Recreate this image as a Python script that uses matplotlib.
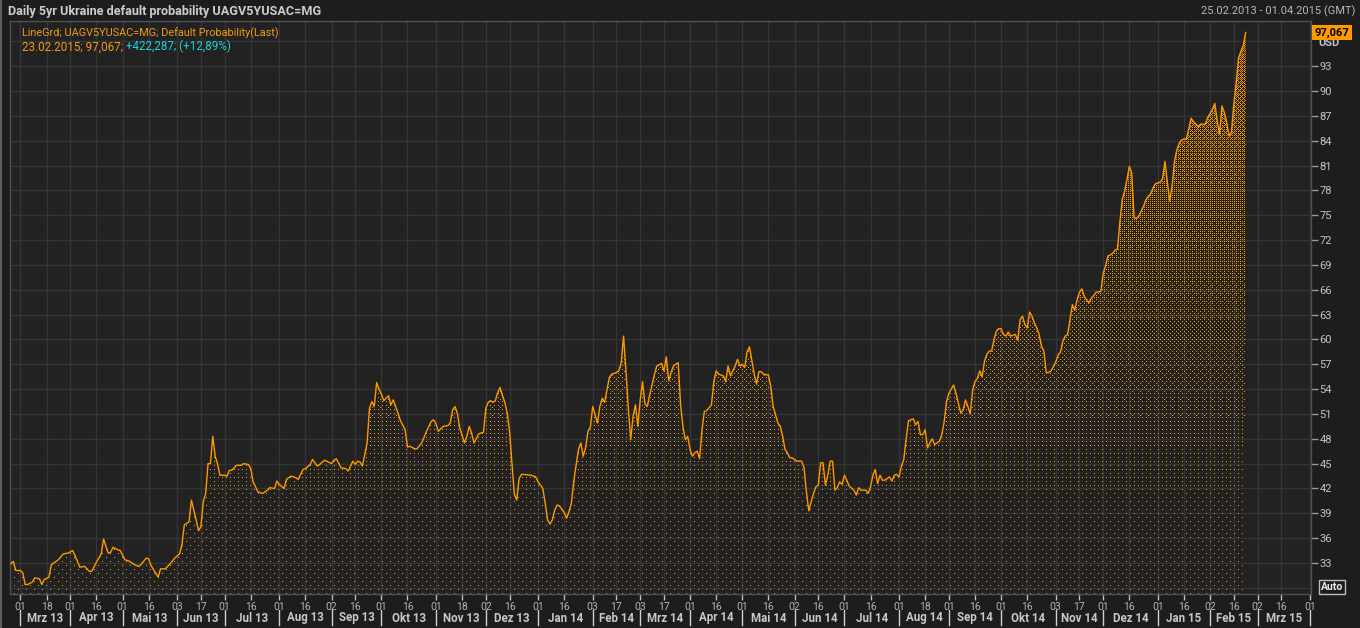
import numpy as np
import matplotlib
matplotlib.use('Agg')
import matplotlib.pyplot as plt
from matplotlib.transforms import blended_transform_factory
from matplotlib.lines import Line2D

plt.rcParams['font.family'] = ['Roboto', 'DejaVu Sans']

# ---------------- data (x = business days since 01.03.2013) ----------------
days = [-4, -3, -2, 0, 1, 2, 3, 5, 6, 8, 9, 10, 12, 13, 15, 16, 18, 20, 22, 23, 25, 27, 29, 30, 32, 34, 35, 36, 37,
        38, 39, 41, 42, 44, 46, 48, 50, 51, 53, 54, 55, 58, 59, 61, 63, 65, 67, 68, 69, 70, 71, 72, 73, 74, 75, 76,
        77, 78, 79, 80, 81, 82, 83, 84, 86, 87, 88, 89, 91, 93, 94, 96, 97, 98, 100, 102, 104, 105, 107, 108, 109,
        111, 112, 114, 116, 117, 119, 120, 122, 123, 125, 126, 128, 129, 131, 132, 133, 135, 137, 138, 140, 141,
        142, 143, 144, 145, 146, 147, 148, 149, 150, 151, 152, 153, 155, 156, 157, 159, 160, 162, 163, 164, 166,
        167, 169, 170, 171, 173, 174, 175, 176, 178, 180, 181, 182, 183, 184, 185, 187, 188, 189, 190, 191, 193,
        195, 196, 197, 198, 199, 200, 201, 202, 203, 204, 205, 206, 207, 208, 209, 210, 211, 212, 215, 217, 218,
        220, 221, 222, 223, 224, 225, 226, 227, 229, 230, 231, 232, 233, 234, 235, 236, 237, 238, 239, 240, 241,
        242, 243, 244, 245, 246, 247, 248, 249, 251, 252, 253, 254, 255, 256, 257, 258, 259, 260, 261, 262, 263,
        264, 265, 266, 267, 268, 270, 271, 272, 273, 274, 275, 276, 277, 278, 279, 280, 281, 282, 283, 284, 285,
        286, 287, 288, 289, 291, 292, 293, 294, 296, 297, 298, 299, 300, 301, 302, 303, 304, 305, 306, 307, 308,
        309, 310, 311, 312, 313, 315, 316, 317, 318, 319, 320, 321, 322, 323, 324, 325, 327, 329, 330, 331, 332,
        333, 334, 335, 336, 337, 338, 339, 340, 341, 342, 343, 344, 345, 346, 347, 348, 349, 351, 352, 353, 354,
        356, 357, 358, 359, 360, 361, 362, 363, 364, 366, 367, 368, 369, 370, 371, 372, 373, 374, 375, 376, 377,
        378, 379, 380, 381, 382, 383, 384, 385, 387, 388, 389, 390, 391, 392, 393, 394, 395, 396, 397, 398, 399,
        400, 401, 402, 403, 404, 405, 406, 407, 408, 409, 410, 411, 412, 413, 414, 415, 416, 417, 419, 420, 421,
        422, 423, 424, 425, 426, 427, 428, 429, 430, 431, 432, 433, 434, 435, 436, 437, 438, 439, 440, 441, 442,
        443, 444, 445, 446, 447, 448, 450, 451, 452, 453, 455, 456, 457, 458, 459, 460, 461, 462, 463, 464, 465,
        466, 467, 468, 469, 470, 471, 472, 473, 474, 476, 477, 478, 480, 481, 482, 483, 484, 485, 486, 487, 488,
        489, 490, 491, 492, 493, 494, 495, 496, 497, 499, 500, 501, 502, 503, 504, 505, 506, 507, 508, 509, 510,
        511, 512, 513, 514, 515, 516]
values = [32.9, 33.2, 32.1, 32.1, 31.8, 30.4, 30.4, 30.7, 31.2, 31.1, 30.4, 31.0, 31.3, 32.8, 33.2, 33.4, 34.1,
          34.2, 34.5, 33.9, 32.5, 32.6, 32.0, 32.0, 33.1, 34.1, 35.9, 35.0, 34.2, 34.3, 34.9, 34.6, 34.5, 33.4,
          33.2, 32.8, 32.6, 32.9, 33.6, 33.5, 32.7, 31.3, 32.3, 32.3, 32.9, 33.6, 34.1, 35.2, 37.6, 37.8, 38.0,
          40.6, 39.4, 38.2, 36.9, 37.4, 40.4, 41.4, 45.0, 45.0, 48.3, 45.9, 45.0, 43.6, 43.6, 43.5, 44.2, 44.2,
          44.8, 44.8, 45.0, 44.9, 44.4, 42.8, 41.6, 41.4, 41.8, 42.1, 42.0, 42.9, 42.5, 42.0, 43.1, 43.5, 43.3,
          43.1, 44.3, 44.4, 44.9, 45.5, 44.7, 44.9, 45.4, 45.3, 45.0, 45.4, 45.6, 44.5, 44.4, 44.1, 45.3, 44.9,
          45.3, 45.2, 44.7, 46.1, 47.5, 51.7, 52.5, 51.9, 54.8, 54.0, 53.4, 52.6, 53.2, 52.1, 52.7, 51.1, 50.2,
          49.1, 47.0, 47.1, 46.8, 46.8, 47.5, 48.2, 48.9, 50.1, 50.3, 49.8, 48.9, 49.5, 49.6, 49.9, 51.5, 51.9,
          51.1, 49.3, 47.5, 48.3, 49.5, 48.7, 47.5, 48.6, 48.8, 51.7, 52.4, 52.6, 52.4, 52.6, 53.6, 54.2, 53.2,
          52.4, 51.1, 48.9, 45.0, 41.3, 40.6, 43.2, 43.7, 43.7, 43.6, 43.4, 42.8, 42.0, 40.2, 38.2, 37.7, 38.2,
          39.4, 40.0, 39.9, 39.1, 38.4, 39.2, 40.2, 42.8, 44.8, 46.7, 47.5, 45.9, 46.9, 48.9, 49.4, 51.9, 50.9,
          49.9, 51.9, 52.9, 52.4, 53.9, 55.4, 55.8, 56.0, 56.2, 57.2, 60.4, 56.2, 51.7, 47.9, 50.7, 52.1, 49.5,
          52.7, 54.9, 52.2, 51.9, 53.3, 54.5, 55.8, 56.8, 57.1, 56.2, 57.9, 55.0, 56.0, 56.8, 57.0, 57.2, 52.1,
          49.5, 47.9, 48.3, 46.7, 45.9, 46.3, 46.5, 45.6, 49.0, 51.3, 51.4, 52.1, 54.9, 56.2, 55.8, 55.6, 54.9,
          56.8, 55.6, 56.2, 56.8, 57.6, 56.8, 57.0, 56.6, 58.5, 59.1, 57.5, 55.8, 54.6, 56.1, 56.1, 55.8, 55.7,
          54.3, 51.9, 50.9, 49.9, 49.5, 48.3, 46.7, 46.3, 45.7, 45.7, 45.3, 45.3, 44.5, 41.6, 39.3, 40.4, 41.4,
          42.2, 42.4, 45.1, 45.1, 42.4, 43.6, 45.3, 45.3, 41.8, 42.1, 42.8, 42.5, 43.6, 43.0, 42.3, 41.8, 41.2,
          42.1, 41.8, 41.8, 41.4, 42.2, 43.6, 44.3, 42.6, 43.6, 43.0, 43.0, 43.4, 42.9, 43.6, 43.7, 43.4, 44.7,
          45.5, 48.0, 50.2, 50.3, 50.4, 49.7, 50.1, 48.5, 48.5, 49.1, 46.9, 47.5, 48.0, 47.3, 47.7, 48.5, 50.0,
          52.5, 53.5, 54.0, 54.5, 53.5, 52.3, 51.1, 51.5, 52.7, 51.9, 51.0, 53.9, 54.9, 55.3, 56.2, 55.5, 57.4,
          58.2, 58.6, 58.6, 60.0, 61.0, 61.3, 61.3, 60.6, 60.4, 60.9, 60.4, 60.6, 59.9, 62.4, 62.8, 61.8, 61.4,
          63.3, 62.8, 62.0, 61.4, 60.6, 59.2, 58.6, 56.0, 56.0, 56.2, 56.7, 57.3, 58.1, 58.5, 59.8, 60.4, 60.6,
          62.4, 64.2, 63.5, 64.8, 65.7, 66.1, 65.2, 64.4, 65.0, 65.3, 65.7, 65.8, 68.0, 68.9, 70.1, 70.2, 70.4,
          70.8, 70.9, 74.1, 76.9, 77.9, 79.3, 80.9, 80.1, 74.7, 74.6, 74.9, 75.5, 76.1, 76.9, 77.6, 78.3, 78.8,
          79.0, 79.4, 81.5, 79.0, 76.7, 78.5, 81.5, 82.9, 83.7, 84.1, 84.2, 84.2, 85.4, 86.7, 86.3, 86.0, 85.7,
          86.0, 86.0, 86.8, 87.3, 87.8, 88.5, 86.4, 84.8, 88.2, 87.4, 86.2, 84.6, 85.0, 88.4, 91.0, 94.0, 94.8,
          95.5, 97.067]

y_ticks = list(range(33, 94, 3))
bold_ticks = [60, 90]
month_names = ['Jan', 'Feb', 'Mrz', 'Apr', 'Mai', 'Jun', 'Jul', 'Aug', 'Sep', 'Okt', 'Nov', 'Dez']
title = 'Daily 5yr Ukraine default probability UAGV5YUSAC=MG'
range_text = '25.02.2013 - 01.04.2015 (GMT)'
legend_line1 = 'LineGrd; UAGV5YUSAC=MG; Default Probability(Last)'
legend_line2a = '23.02.2015; 97,067;'
legend_line2b = ' +422,287; (+12,89%)'
last_label = '97,067'
START = '2013-03-01'

# ---------------- styling ----------------
ORANGE = '#ff9900'
TXT = '#c4c4c4'
W, H = 1360, 628
fig = plt.figure(figsize=(W / 100, H / 100), dpi=100, facecolor='#1d1d1d')
ax_l, ax_r, ax_t, ax_b = 10, 1311, 21, 594
ax = fig.add_axes([ax_l / W, 1 - ax_b / H, (ax_r - ax_l) / W, (ax_b - ax_t) / H])
ax.set_facecolor('#222222')
XL = (-4.4, 543.5)
YL = (29.26, 98.45)

# x ticks (business-day axis): first business day on/after 1st and 16th
ticks, tlabels, mstarts, mlab = [], [], [], []
y, m = 2013, 3
while (y, m) <= (2015, 4):
    for d in (1, 16):
        if (y, m) == (2015, 4) and d == 16:
            continue
        date = np.busday_offset(np.datetime64(f'{y:04d}-{m:02d}-{d:02d}'), 0, roll='forward')
        idx = int(np.busday_count(START, date))
        ticks.append(idx)
        tlabels.append(str(date)[-2:])
        if d == 1:
            mstarts.append(idx)
            mlab.append(f'{month_names[m - 1]} {y % 100:02d}')
    m += 1
    if m > 12:
        m, y = 1, y + 1
mlab = mlab[:-1]
mmid = [(a + b) / 2 for a, b in zip(mstarts[:-1], mstarts[1:])]

# dotted gradient texture clipped to the area under the curve
def bayer(n):
    if n == 1:
        return np.array([[0]])
    b = bayer(n // 2)
    return np.block([[4 * b, 4 * b + 2], [4 * b + 3, 4 * b + 1]])

B = bayer(8)
hh, ww = ax_b - ax_t, ax_r - ax_l
rr = np.arange(hh)[:, None]
cc = np.arange(ww)[None, :]
tt = (hh - rr - 0.5) / hh
level = 1 + 31 * tt ** 2
mask = B[rr % 8, cc % 8] < level
rgba = np.zeros((hh, ww, 4))
rgba[..., 0] = 1.0
rgba[..., 1] = 0.6
rgba[..., 2] = 0.0
rgba[..., 3] = mask.astype(float)
im = ax.imshow(rgba, extent=(XL[0], XL[1], YL[0], YL[1]), aspect='auto',
               interpolation='nearest', origin='upper', zorder=1.5)
poly = ax.fill_between(days, values, YL[0], facecolor='none', edgecolor='none')
im.set_clip_path(poly.get_paths()[0], transform=ax.transData)

ax.plot(days, values, color=ORANGE, lw=1.0, zorder=3)

ax.set_xlim(*XL)
ax.set_ylim(*YL)

# grid
ax.set_xticks(ticks)
ax.set_xticklabels(tlabels)
ax.set_yticks(y_ticks)
ax.set_yticks([30, 96], minor=True)
ax.set_yticklabels([str(v) for v in y_ticks])
for lab, v in zip(ax.get_yticklabels(), y_ticks):
    if v in bold_ticks:
        lab.set_fontweight('bold')
        lab.set_color('#e0e0e0')
ax.grid(True, which='both', color='#353535', lw=1.0, zorder=0)
ax.set_axisbelow(True)
ax.yaxis.tick_right()
ax.tick_params(axis='y', which='major', length=5, width=1, color='#9a9a9a', labelcolor=TXT,
               labelsize=8, pad=1)
ax.tick_params(axis='y', which='minor', length=0)
ax.tick_params(axis='x', length=4, width=1, color='#bdbdbd', labelcolor='#b4b4b4', labelsize=7.5, pad=2)
for sp in ax.spines.values():
    sp.set_color('#505050')
    sp.set_linewidth(1)

# month row
bt = blended_transform_factory(ax.transData, ax.transAxes)
for xm, lab in zip(mmid, mlab):
    ax.text(xm, (ax_b - 618) / hh, lab, transform=bt, ha='center', va='center', fontsize=8.3,
            fontweight='bold', color='#c8c8c8', clip_on=False)
for xs in mstarts:
    ax.plot([xs, xs], [(ax_b - 610) / hh, (ax_b - 625) / hh], transform=bt, color='#cfcfcf',
            lw=1, clip_on=False)

# legend text
t2 = ax.text(12 / ww, (ax_b - 47) / hh, legend_line2a, transform=ax.transAxes, color='#f09a1a',
             fontsize=8.4, va='center')
ax.text(12 / ww, (ax_b - 33) / hh, legend_line1, transform=ax.transAxes, color='#f09a1a',
        fontsize=7.8, va='center')
ax.annotate(legend_line2b, xy=(1, 0), xycoords=t2, va='bottom', ha='left', color='#19d6d6', fontsize=8.4)

# right-side labels
by = blended_transform_factory(ax.transAxes, ax.transData)
ax.text(1 + 7 / ww, (ax_b - 43) / hh, 'USD', transform=ax.transAxes, color=TXT, fontsize=8,
        fontweight='bold', va='center', ha='left')
ax.annotate(last_label, xy=(1, values[-1]), xycoords=by, xytext=(2.5, 0), textcoords='offset points',
            ha='left', va='center', fontsize=8, fontweight='bold', color='black',
            bbox=dict(boxstyle='square,pad=0.22', fc=ORANGE, ec='none'), annotation_clip=False, zorder=10)

# title bar
fig.text(8 / W, 1 - 11 / H, title, color='#cccccc', fontweight='bold', fontsize=9.1, va='center')
fig.text(1355 / W, 1 - 11 / H, range_text, color='#b8b8b8', fontsize=8, va='center', ha='right')
fig.text(1332 / W, 1 - 587 / H, 'Auto', ha='center', va='center', fontsize=7.5, fontweight='bold',
         color='#ececec', bbox=dict(boxstyle='square,pad=0.15', fc='none', ec='#bdbdbd', lw=1))

# window border on the left edge
fig.add_artist(Line2D([1 / W, 1 / W], [0, 1], transform=fig.transFigure, color='#5e5e5e', lw=1.5))

fig.savefig('out.png', dpi=100, facecolor=fig.get_facecolor())
